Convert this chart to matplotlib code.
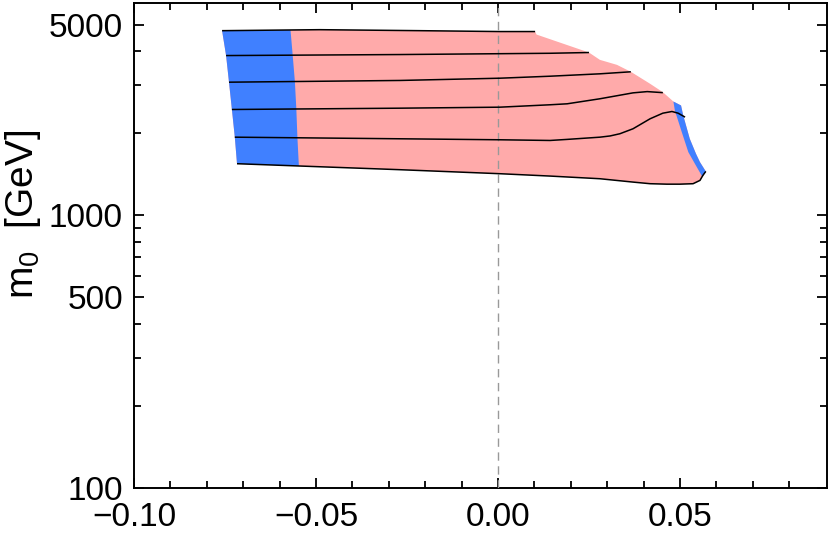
import numpy as np
import matplotlib
matplotlib.use("Agg")
import matplotlib.pyplot as plt
from matplotlib.ticker import FixedLocator, NullFormatter

plt.rcParams['font.family'] = ['Liberation Sans', 'DejaVu Sans']

# ---- data (x = a-parameter, y = m0 in GeV) ----
line1_x = [-0.0758, -0.049, -0.0214, 0.0005, 0.0102]
line1_y = [4750, 4790, 4750, 4715, 4715]

line2_x = [-0.0747, -0.027, 0.0143, 0.025]
line2_y = [3850, 3883, 3925, 3950]

line3_x = [-0.0739, -0.027, 0.0005, 0.0143, 0.028, 0.0365]
line3_y = [3075, 3120, 3180, 3234, 3300, 3357]

line4_x = [-0.0731, -0.027, 0.0005, 0.0143, 0.019, 0.028, 0.0371, 0.041, 0.0453]
line4_y = [2442, 2469, 2490, 2541, 2562, 2673, 2810, 2840, 2815]

line5_x = [-0.0723, -0.027, 0.0005, 0.0143, 0.019, 0.028, 0.0308, 0.0335, 0.0371,
           0.0418, 0.0453, 0.0478, 0.0495, 0.0514]
line5_y = [1933, 1907, 1891, 1880, 1897, 1933, 1953, 1990, 2075,
           2258, 2367, 2401, 2367, 2289]

line6_x = [-0.0717, -0.027, 0.0005, 0.0143, 0.028, 0.0371, 0.0418, 0.0464, 0.05,
           0.0536, 0.0555, 0.0563, 0.0571]
line6_y = [1545, 1469, 1420, 1392, 1361, 1323, 1305, 1300, 1300,
           1305, 1342, 1400, 1448]

# upper-right edge of the allowed region
edge_x = [0.0106, 0.0170, 0.025, 0.028, 0.0327, 0.0365, 0.0418, 0.0453, 0.0482]
edge_y = [4597, 4297, 3950, 3713, 3559, 3357, 3034, 2826, 2612]

# right blue band: outer and inner boundaries (top to bottom)
rblue_out_x = [0.0482, 0.0503, 0.0509, 0.0527, 0.0544, 0.0555, 0.0571]
rblue_out_y = [2612, 2526, 2322, 1907, 1681, 1566, 1448]
rblue_in_x = [0.0482, 0.0486, 0.0505, 0.0523, 0.0541, 0.0562]
rblue_in_y = [2612, 2422, 2017, 1704, 1545, 1380]

# left blue band inner boundary (top to bottom)
lblue_in_x = [-0.0570, -0.0564, -0.0558, -0.0554, -0.0551, -0.0547]
lblue_in_y = [4775, 3863, 3092, 2453, 1923, 1516]

x_ticks = [-0.10, -0.05, 0.00, 0.05]
x_ticklabels = ['\u22120.10', '\u22120.05', '0.00', '0.05']
y_ticks = [100, 500, 1000, 5000]
y_ticklabels = ['100', '500', '1000', '5000']
y_minor = [200, 300, 400, 600, 700, 800, 900, 2000, 3000, 4000]

lines = [(line1_x, line1_y), (line2_x, line2_y), (line3_x, line3_y),
         (line4_x, line4_y), (line5_x, line5_y), (line6_x, line6_y)]

PINK = '#FFAAAA'
BLUE = '#4080FF'

fig = plt.figure(figsize=(8.3, 5.35), dpi=100)
ax = fig.add_axes([134 / 830, 47 / 535, 693 / 830, 485 / 535])

# full region polygon
starts_x = [l[0][0] for l in lines]
starts_y = [l[1][0] for l in lines]
poly_x = (list(line1_x) + list(edge_x) + list(rblue_out_x)
          + list(line6_x[::-1]) + starts_x[::-1])
poly_y = (list(line1_y) + list(edge_y) + list(rblue_out_y)
          + list(line6_y[::-1]) + starts_y[::-1])
ax.fill(poly_x, poly_y, color=PINK, lw=0, zorder=1)

# left blue band
lb_x = starts_x + lblue_in_x[::-1]
lb_y = starts_y + lblue_in_y[::-1]
ax.fill(lb_x, lb_y, color=BLUE, lw=0, zorder=2)

# right blue band
rb_x = rblue_out_x + rblue_in_x[::-1]
rb_y = rblue_out_y + rblue_in_y[::-1]
ax.fill(rb_x, rb_y, color=BLUE, lw=0, zorder=2)

ax.axvline(0.0, color='#999999', lw=1.0, dashes=(6, 4), zorder=3)

for lx, ly in lines:
    ax.plot(lx, ly, color='black', lw=1.1, zorder=4, solid_capstyle='butt')

ax.set_yscale('log')
ax.set_xlim(-0.10, 0.0904)
ax.set_ylim(100, 6000)

ax.set_xticks(x_ticks)
ax.set_xticklabels(x_ticklabels)
ax.xaxis.set_minor_locator(FixedLocator(np.arange(-0.09, 0.09, 0.01)))
ax.yaxis.set_major_locator(FixedLocator(y_ticks))
ax.set_yticklabels(y_ticklabels)
ax.yaxis.set_minor_locator(FixedLocator(y_minor))
ax.yaxis.set_minor_formatter(NullFormatter())

ax.tick_params(which='both', direction='in', top=True, right=True,
               labelsize=24, width=1.3, colors='black')
ax.tick_params(which='major', length=7)
ax.tick_params(which='minor', length=5)
ax.tick_params(axis='y', which='major', pad=8)
ax.tick_params(axis='x', which='major', pad=10)

for s in ax.spines.values():
    s.set_linewidth(1.4)

ax.set_ylabel('m$_\\mathregular{0}$  [GeV]', fontsize=28)
ax.yaxis.set_label_coords(-0.132, 0.565)

fig.savefig('out.png', dpi=100)
